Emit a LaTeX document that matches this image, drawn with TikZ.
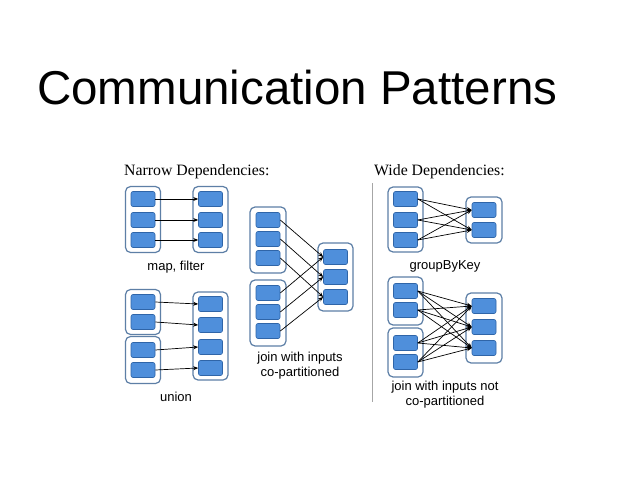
\documentclass[tikz,border=0pt]{standalone}
\usepackage{fontspec}
\setmainfont{Liberation Sans}
\newfontfamily\serifff{Liberation Serif}
\usetikzlibrary{arrows.meta}
\definecolor{pfill}{HTML}{4F8FDB}
\definecolor{pdraw}{HTML}{2F65A8}
\definecolor{cdraw}{HTML}{5D7FA6}
\begin{document}
\begin{tikzpicture}[x=1pt,y=-1pt,
  part/.style={draw=pdraw,fill=pfill,rounded corners=2pt,minimum width=24pt,minimum height=15pt,inner sep=0pt,line width=0.6pt},
  cont/.style={draw=cdraw,fill=white,rounded corners=5pt,line width=1.2pt,inner sep=0pt},
  edge/.style={-{Stealth[length=5pt,width=4pt]},line width=0.7pt,black},
  lab/.style={font=\fontsize{13}{15}\selectfont,align=center,inner sep=0pt},
  head/.style={font=\serifff\fontsize{15.8}{18}\selectfont,anchor=west,inner sep=0pt}]
\useasboundingbox (0,0) rectangle (638,479);
\fill[white] (0,0) rectangle (638,479);
\node[anchor=base west,inner sep=0pt,font=\fontsize{47.5}{52}\selectfont] (title) at (37,104) {Communication Patterns};
\node[head] (nh) at (124,172) {Narrow Dependencies:};
\node[head] (wh) at (374,172) {Wide Dependencies:};
\draw[gray!70,line width=1pt] (372,183) coordinate (v1) -- (372,402) coordinate (v2);
% containers
\node[cont,minimum width=35pt,minimum height=66pt] (cA) at (143,219.5) {};
\node[cont,minimum width=35pt,minimum height=66pt] (cB) at (210.5,219.5) {};
\node[cont,minimum width=35pt,minimum height=45pt] (cC) at (143,312) {};
\node[cont,minimum width=35pt,minimum height=47pt] (cD) at (143,360) {};
\node[cont,minimum width=35pt,minimum height=88pt] (cE) at (210.5,336) {};
\node[cont,minimum width=36pt,minimum height=66pt] (cF) at (268,240) {};
\node[cont,minimum width=36pt,minimum height=66pt] (cG) at (268,313) {};
\node[cont,minimum width=35pt,minimum height=68pt] (cH) at (335.5,277) {};
\node[cont,minimum width=35pt,minimum height=65pt] (cI) at (405.5,219.5) {};
\node[cont,minimum width=36pt,minimum height=46pt] (cJ) at (484,220) {};
\node[cont,minimum width=35pt,minimum height=48pt] (cK) at (405.5,301) {};
\node[cont,minimum width=35pt,minimum height=49pt] (cL) at (405.5,352.5) {};
\node[cont,minimum width=36pt,minimum height=70pt] (cM) at (484,328) {};
% partitions
\foreach \n/\x/\y in {a1/143/199,a2/143/220,a3/143/240,b1/210.5/199,b2/210.5/220,b3/210.5/240,
  c1/143/302,c2/143/322,d1/143/350,d2/143/370,e1/210.5/304,e2/210.5/325,e3/210.5/347,e4/210.5/368,
  f1/268/220,f2/268/239,f3/268/258,g1/268/293,g2/268/312,g3/268/331,h1/335.5/257,h2/335.5/277,h3/335.5/297,
  i1/405.5/199,i2/405.5/220,i3/405.5/240,j1/484/210,j2/484/230,
  k1/405.5/291,k2/405.5/310,l1/405.5/343,l2/405.5/362,m1/484/306,m2/484/327,m3/484/348}
  \node[part] (\n) at (\x,\y) {};
% narrow edges
\foreach \s/\t in {a1/b1,a2/b2,a3/b3,c1/e1,c2/e2,d1/e3,d2/e4,f1/h1,f2/h2,f3/h3,g1/h1,g2/h2,g3/h3}
  \draw[edge] (\s.east) -- (\t.west);
% wide edges
\foreach \s in {i1,i2,i3} \foreach \t in {j1,j2} \draw[edge] (\s.east) -- (\t.west);
\foreach \s in {k1,k2,l1,l2} \foreach \t in {m1,m2,m3} \draw[edge] (\s.east) -- (\t.west);
% labels
\node[lab] (lmap) at (176,267) {map, filter};
\node[lab] (lun) at (176,397) {union};
\node[lab] (ljc) at (300,366) {join with inputs\\co-partitioned};
\node[lab] (lgb) at (445,266) {groupByKey};
\node[lab] (ljn) at (445,395) {join with inputs not\\co-partitioned};
\end{tikzpicture}
\end{document}
